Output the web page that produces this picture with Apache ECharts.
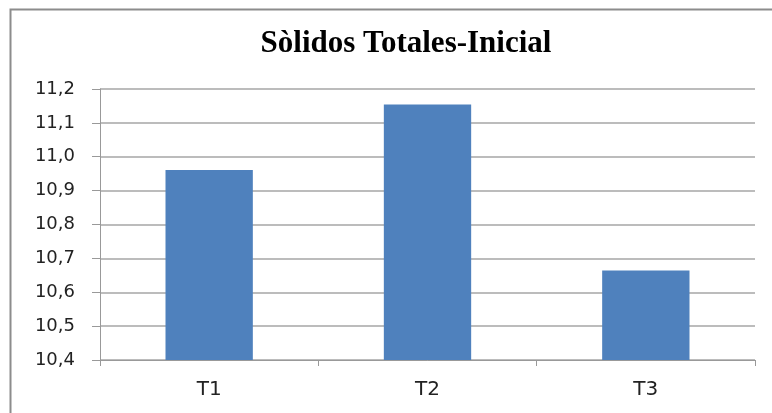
<!DOCTYPE html>
<html lang="es">
<head>
    <meta charset="UTF-8">
    <title>Sòlidos Totales-Inicial</title>
    <script src="https://cdn.jsdelivr.net/npm/echarts@6/dist/echarts.min.js"></script>
    <style>
        html, body { margin: 0; padding: 0; background: #fff; }
    </style>
</head>
<body>
    <div id="main" style="width:772px;height:413px;"></div>
    <script>
        // datos
        const categories = ['T1', 'T2', 'T3'];
        const values = [10.961, 11.154, 10.664];
        const yMin = 10.4, yMax = 11.2, yStep = 0.1;

        const option = {
            backgroundColor: '#fff',
            animation: false,
            // marco del gráfico
            graphic: [{
                type: 'rect',
                shape: { x: 10.5, y: 9.5, width: 800, height: 440 },
                style: { fill: 'none', stroke: '#8c8c8c', lineWidth: 2 },
                silent: true
            }],
            title: {
                text: 'Sòlidos Totales-Inicial',
                left: 401,
                textAlign: 'center',
                top: 23,
                textStyle: {
                    fontFamily: 'Liberation Serif',
                    fontWeight: 'bold',
                    fontSize: 31,
                    color: '#000'
                }
            },
            grid: { left: 100, right: 17, top: 89, bottom: 53 },
            xAxis: {
                type: 'category',
                data: categories,
                axisLine: { lineStyle: { color: '#999', width: 1 } },
                axisTick: { show: true, length: 6, alignWithLabel: false, lineStyle: { color: '#999' } },
                axisLabel: {
                    margin: 20,
                    fontFamily: 'DejaVu Sans',
                    fontSize: 20,
                    color: '#222'
                }
            },
            yAxis: {
                type: 'value',
                min: yMin,
                max: yMax,
                interval: yStep,
                axisLine: { show: true, lineStyle: { color: '#999', width: 1 } },
                axisTick: { show: true, length: 8, lineStyle: { color: '#999' } },
                splitLine: { lineStyle: { color: '#a6a6a6', width: 1.5 } },
                axisLabel: {
                    margin: 25,
                    fontFamily: 'DejaVu Sans',
                    fontSize: 18,
                    color: '#222',
                    formatter: function (v) { return v.toFixed(1).replace('.', ','); }
                }
            },
            series: [{
                type: 'bar',
                data: values,
                barWidth: '40%',
                itemStyle: { color: '#4f81bd' }
            }]
        };

        var myChart = echarts.init(document.getElementById('main'));
        myChart.setOption(option);
    </script>
</body>
</html>
